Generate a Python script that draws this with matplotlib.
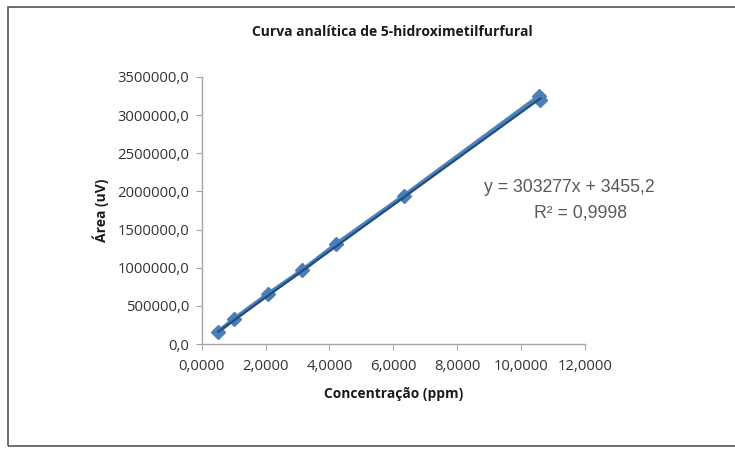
import matplotlib
matplotlib.use("Agg")
import matplotlib.pyplot as plt
from matplotlib.ticker import FuncFormatter
from matplotlib.patches import Rectangle
import numpy as np

conc = [0.52, 1.02, 2.07, 3.14, 4.21, 6.32, 10.55, 10.60]
area = [162000, 329000, 654000, 964000, 1310000, 1940000, 3245000, 3200000]
slope = 303277
intercept = 3455.2
r2_text = "R² = 0,9998"
eq_text = "y = 303277x + 3455,2"
title = "Curva analítica de 5-hidroximetilfurfural"
xlabel = "Concentração (ppm)"
ylabel = "Área (uV)"

plt.rcParams['font.family'] = ['Open Sans', 'DejaVu Sans']

fig = plt.figure(figsize=(7.35, 4.5), dpi=100)
fig.patch.set_facecolor('white')
fig.add_artist(Rectangle((8/735, 4/450), 1.2, 1 - 11/450, transform=fig.transFigure,
                         fill=False, edgecolor='#555555', linewidth=1.2))

ax = fig.add_axes([201.7/735, 1 - 344/450, (585 - 201.7)/735, (344 - 77)/450])

ax.plot(conc, area, color='#4F81BD', linewidth=3, marker='D', markersize=7,
        markerfacecolor='#4A7EBB', markeredgecolor='#4A7EBB', zorder=3)
xt = np.array([min(conc), max(conc)])
ax.plot(xt, slope * xt + intercept, color='#1F4E79', linewidth=1.6, zorder=4)

ax.set_xlim(0, 12)
ax.set_ylim(0, 3500000)
ax.set_xticks(np.arange(0, 12.1, 2))
ax.set_yticks(np.arange(0, 3500001, 500000))
ax.xaxis.set_major_formatter(FuncFormatter(lambda v, p: f"{v:.4f}".replace('.', ',')))
ax.yaxis.set_major_formatter(FuncFormatter(lambda v, p: f"{v:.1f}".replace('.', ',')))

for s in ['top', 'right']:
    ax.spines[s].set_visible(False)
for s in ['left', 'bottom']:
    ax.spines[s].set_color('#A6A6A6')
    ax.spines[s].set_linewidth(1)
ax.tick_params(axis='both', colors='#A6A6A6', length=4, labelcolor='#333333', labelsize=10.7)
ax.tick_params(axis='y', pad=5)
ax.tick_params(axis='x', pad=7)

ax.set_xlabel(xlabel, fontsize=9.9, fontweight='bold', color='#1a1a1a', labelpad=9)
ax.set_ylabel(ylabel, fontsize=10, fontweight='bold', color='#1a1a1a', labelpad=6)
fig.text(0.5 + 25/735, 1 - 32/450, title, ha='center', va='center', fontsize=10,
         fontweight='bold', color='#1a1a1a')

fig.text(569/735, 1 - 187/450, eq_text, ha='center', va='center', fontsize=12.7,
         color='#595959', family=['Liberation Sans', 'DejaVu Sans'])
fig.text(580/735, 1 - 213/450, r2_text, ha='center', va='center', fontsize=12.7,
         color='#595959', family=['Liberation Sans', 'DejaVu Sans'])

fig.savefig('out.png', dpi=100, facecolor='white')
